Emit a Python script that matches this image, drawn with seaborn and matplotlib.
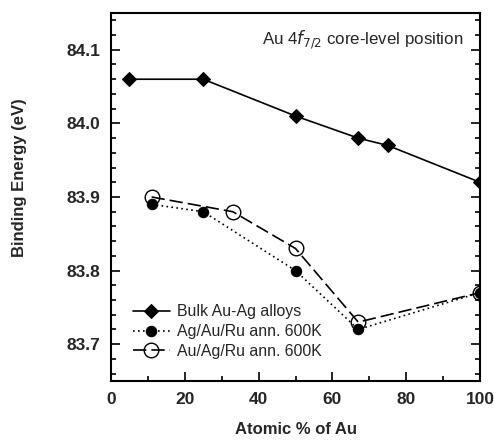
import matplotlib
matplotlib.use("Agg")
import matplotlib.pyplot as plt
import seaborn as sns
import pandas as pd
from matplotlib.ticker import MultipleLocator, FormatStrFormatter

sns.set_theme(style="ticks")
plt.rcParams["font.family"] = ["Liberation Sans", "DejaVu Sans"]

# Au 4f7/2 binding energies versus Au content
bulk_x = [5, 25, 50, 67, 75, 100]
bulk_y = [84.06, 84.06, 84.01, 83.98, 83.97, 83.92]

agauru_x = [11, 25, 50, 67, 100]
agauru_y = [83.89, 83.88, 83.80, 83.72, 83.77]

auagru_x = [11, 33, 50, 67, 100]
auagru_y = [83.90, 83.88, 83.83, 83.73, 83.77]

labels = ["Bulk Au-Ag alloys", "Ag/Au/Ru ann. 600K", "Au/Ag/Ru ann. 600K"]

fig = plt.figure(figsize=(4.94, 4.43), dpi=100)
ax = fig.add_axes([0.2247, 0.140, 0.7470, 0.8307])

df_bulk = pd.DataFrame({"x": bulk_x, "y": bulk_y})
df_a = pd.DataFrame({"x": agauru_x, "y": agauru_y})
df_b = pd.DataFrame({"x": auagru_x, "y": auagru_y})

sns.lineplot(data=df_bulk, x="x", y="y", ax=ax, color="black", lw=1.2,
             marker="D", markersize=6.8, markerfacecolor="black",
             markeredgecolor="black", label=labels[0], zorder=3)
sns.lineplot(data=df_a, x="x", y="y", ax=ax, color="black", lw=1.2,
             linestyle=(0, (1, 2)), marker="o", markersize=7.5,
             markerfacecolor="black", markeredgecolor="black",
             label=labels[1], zorder=4)
sns.lineplot(data=df_b, x="x", y="y", ax=ax, color="black", lw=1.2,
             linestyle=(0, (8, 3)), marker="o", markersize=10.5,
             markerfacecolor="none", markeredgecolor="black",
             markeredgewidth=1.0, label=labels[2], zorder=3)

ax.set_xlim(0, 100)
ax.set_ylim(83.65, 84.15)
ax.xaxis.set_major_locator(MultipleLocator(20))
ax.xaxis.set_minor_locator(MultipleLocator(10))
ax.yaxis.set_major_locator(MultipleLocator(0.1))
ax.yaxis.set_minor_locator(MultipleLocator(0.02))
ax.yaxis.set_major_formatter(FormatStrFormatter("%.1f"))

ax.tick_params(which="both", direction="in", right=True, top=False,
               color="black", width=1.2)
ax.tick_params(which="major", length=6.5, labelsize=12.5, pad=8)
ax.tick_params(which="minor", length=3.5)
for lbl in ax.get_xticklabels() + ax.get_yticklabels():
    lbl.set_fontweight("bold")

for sp in ax.spines.values():
    sp.set_color("black")
    sp.set_linewidth(1.5)

ax.set_xlabel("Atomic % of Au", fontsize=12, fontweight="bold")
ax.set_ylabel("Binding Energy (eV)", fontsize=12, fontweight="bold")
ax.xaxis.set_label_coords(0.50, -0.133)
ax.xaxis.label.set_va("center")
ax.yaxis.set_label_coords(-0.247, 0.552)
ax.yaxis.label.set_va("center")

ax.text(0.955, 0.927, r"Au 4$f_{7/2}$ core-level position", transform=ax.transAxes,
        ha="right", va="center", fontsize=12.2)

leg = ax.legend(loc="lower left", bbox_to_anchor=(0.03, 0.03), frameon=False,
                fontsize=11.4, handlelength=2.3, handletextpad=0.5,
                labelspacing=0.3, borderaxespad=0.3)

fig.savefig("out.png", dpi=100)
